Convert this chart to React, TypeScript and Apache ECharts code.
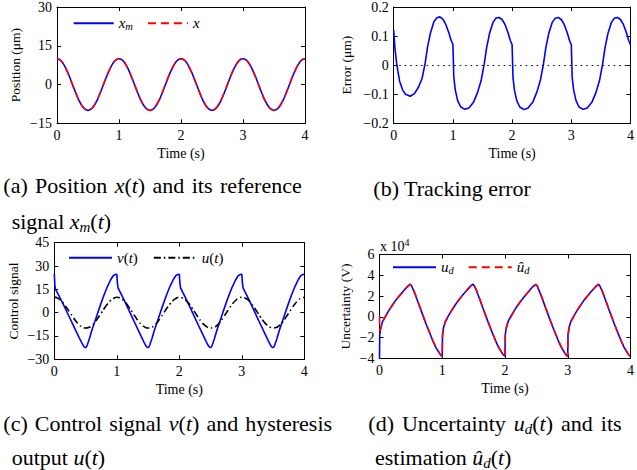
import React, { useEffect, useRef } from "react";
import * as echarts from "echarts";

// ---------- data ----------
const timeGrid = [0,0.05,0.1,0.15,0.2,0.25,0.3,0.35,0.4,0.45,0.5,0.55,0.6,0.65,0.7,0.75,0.8,0.85,0.9,0.95,
  1,1.05,1.1,1.15,1.2,1.25,1.3,1.35,1.4,1.45,1.5,1.55,1.6,1.65,1.7,1.75,1.8,1.85,1.9,1.95,
  2,2.05,2.1,2.15,2.2,2.25,2.3,2.35,2.4,2.45,2.5,2.55,2.6,2.65,2.7,2.75,2.8,2.85,2.9,2.95,
  3,3.05,3.1,3.15,3.2,3.25,3.3,3.35,3.4,3.45,3.5,3.55,3.6,3.65,3.7,3.75,3.8,3.85,3.9,3.95,4];

const xmValues = [10,9.5,8.1,5.9,3.1,0,-3.1,-5.9,-8.1,-9.5,-10,-9.5,-8.1,-5.9,-3.1,0,3.1,5.9,8.1,9.5,
  10,9.5,8.1,5.9,3.1,0,-3.1,-5.9,-8.1,-9.5,-10,-9.5,-8.1,-5.9,-3.1,0,3.1,5.9,8.1,9.5,
  10,9.5,8.1,5.9,3.1,0,-3.1,-5.9,-8.1,-9.5,-10,-9.5,-8.1,-5.9,-3.1,0,3.1,5.9,8.1,9.5,
  10,9.5,8.1,5.9,3.1,0,-3.1,-5.9,-8.1,-9.5,-10,-9.5,-8.1,-5.9,-3.1,0,3.1,5.9,8.1,9.5,10];

const xValues = [9.9,9.5,8.0,5.9,3.0,-0.1,-3.1,-5.9,-8.1,-9.5,-9.9,-9.5,-8.1,-5.8,-3.0,0.1,3.1,5.9,8.1,9.5,
  10,9.5,8.1,5.8,3.0,-0.1,-3.2,-5.9,-8.1,-9.5,-10,-9.5,-8.0,-5.8,-3.0,0.1,3.2,5.9,8.1,9.5,
  10,9.5,8.0,5.8,3.0,-0.1,-3.1,-5.9,-8.2,-9.5,-10,-9.4,-8.0,-5.8,-3.0,0.1,3.2,6.0,8.1,9.5,
  10,9.5,8.0,5.8,3.0,-0.1,-3.2,-5.9,-8.1,-9.5,-10,-9.5,-8.0,-5.8,-3.0,0.1,3.1,5.9,8.1,9.5,10];

const errTime = [0,0.02,0.05,0.1,0.15,0.2,0.28,0.35,0.42,0.48,0.53,0.57,0.62,0.68,0.73,0.78,0.83,0.88,0.93,0.97,1,
  1.015,1.04,1.08,1.13,1.2,1.27,1.35,1.42,1.48,1.53,1.57,1.62,1.68,1.73,1.78,1.83,1.88,1.93,1.97,2,
  2.015,2.04,2.08,2.13,2.2,2.27,2.35,2.42,2.48,2.53,2.57,2.62,2.68,2.73,2.78,2.83,2.88,2.93,2.97,3,
  3.015,3.04,3.08,3.13,3.2,3.27,3.35,3.42,3.48,3.53,3.57,3.62,3.68,3.73,3.78,3.83,3.88,3.93,3.97,4];
const errValues = [0.12,0.06,0.005,-0.055,-0.085,-0.1,-0.107,-0.098,-0.075,-0.045,0.005,0.06,0.11,0.15,0.163,0.166,0.158,0.14,0.112,0.085,0.072,
  -0.04,-0.085,-0.122,-0.143,-0.152,-0.147,-0.127,-0.092,-0.05,0.005,0.06,0.11,0.148,0.162,0.164,0.157,0.14,0.112,0.085,0.07,
  -0.042,-0.087,-0.123,-0.144,-0.153,-0.147,-0.127,-0.092,-0.05,0.004,0.06,0.11,0.148,0.161,0.164,0.157,0.14,0.112,0.085,0.07,
  -0.042,-0.086,-0.122,-0.144,-0.152,-0.147,-0.127,-0.092,-0.05,0.005,0.06,0.11,0.148,0.162,0.164,0.157,0.14,0.112,0.085,0.07];

const vTime = [0,0.01,0.02,0.05,0.1,0.15,0.2,0.25,0.3,0.35,0.4,0.44,0.47,0.49,0.51,0.53,0.56,0.6,0.65,0.7,0.75,0.8,0.85,0.9,0.94,0.97,1,
  1.01,1.02,1.05,1.1,1.15,1.2,1.25,1.3,1.35,1.4,1.44,1.47,1.49,1.51,1.53,1.56,1.6,1.65,1.7,1.75,1.8,1.85,1.9,1.94,1.97,2,
  2.01,2.02,2.05,2.1,2.15,2.2,2.25,2.3,2.35,2.4,2.44,2.47,2.49,2.51,2.53,2.56,2.6,2.65,2.7,2.75,2.8,2.85,2.9,2.94,2.97,3,
  3.01,3.02,3.05,3.1,3.15,3.2,3.25,3.3,3.35,3.4,3.44,3.47,3.49,3.51,3.53,3.56,3.6,3.65,3.7,3.75,3.8,3.85,3.9,3.94,3.97,4];
const vValues = [25,17,15,12.8,8.8,4.8,0.6,-3.6,-7.8,-12,-16.2,-19.5,-21.6,-22.4,-22.3,-20.5,-17,-11.5,-5.5,0.5,6.3,11.8,16.8,21,23.6,24.5,24.6,
  19,16,13.5,9.5,5.3,1.0,-3.3,-7.6,-11.9,-16.1,-19.5,-21.6,-22.4,-22.3,-20.5,-17,-11.5,-5.5,0.5,6.3,11.8,16.8,21,23.6,24.5,24.6,
  19,16,13.5,9.5,5.3,1.0,-3.3,-7.6,-11.9,-16.1,-19.5,-21.6,-22.4,-22.3,-20.5,-17,-11.5,-5.5,0.5,6.3,11.8,16.8,21,23.6,24.5,24.6,
  19,16,13.5,9.5,5.3,1.0,-3.3,-7.6,-11.9,-16.1,-19.5,-21.6,-22.4,-22.3,-20.5,-17,-11.5,-5.5,0.5,6.3,11.8,16.8,21,23.6,24.5,24.6];

const uValues = [10,9.4,8.0,5.8,3.0,0.1,-2.9,-5.7,-7.9,-9.3,-9.9,-9.6,-8.3,-6.1,-3.3,-0.3,2.8,5.6,7.8,9.3,
  9.9,9.5,8.2,6.0,3.2,0.2,-2.9,-5.7,-7.9,-9.3,-9.9,-9.6,-8.3,-6.1,-3.3,-0.3,2.8,5.6,7.8,9.3,
  9.9,9.5,8.2,6.0,3.2,0.2,-2.9,-5.7,-7.9,-9.3,-9.9,-9.6,-8.3,-6.1,-3.3,-0.3,2.8,5.6,7.8,9.3,
  9.9,9.5,8.2,6.0,3.2,0.2,-2.9,-5.7,-7.9,-9.3,-9.9,-9.6,-8.3,-6.1,-3.3,-0.3,2.8,5.6,7.8,9.3,9.9];

const udTime = [0,0.004,0.02,0.05,0.1,0.15,0.2,0.25,0.3,0.35,0.4,0.45,0.49,0.51,0.55,0.6,0.65,0.7,0.75,0.8,0.85,0.9,0.95,0.98,
  1,1.004,1.02,1.05,1.1,1.15,1.2,1.25,1.3,1.35,1.4,1.45,1.49,1.51,1.55,1.6,1.65,1.7,1.75,1.8,1.85,1.9,1.95,1.98,
  2,2.004,2.02,2.05,2.1,2.15,2.2,2.25,2.3,2.35,2.4,2.45,2.49,2.51,2.55,2.6,2.65,2.7,2.75,2.8,2.85,2.9,2.95,2.98,
  3,3.004,3.02,3.05,3.1,3.15,3.2,3.25,3.3,3.35,3.4,3.45,3.49,3.51,3.55,3.6,3.65,3.7,3.75,3.8,3.85,3.9,3.95,3.98,4];
// in units of 10^4 V
const udValues = [-4,-1.7,-1.05,-0.42,0.12,0.63,1.1,1.52,1.91,2.27,2.62,2.95,3.14,3.0,2.45,1.65,0.82,0,-0.8,-1.55,-2.3,-2.95,-3.45,-3.7,
  -3.75,-1.7,-1.05,-0.42,0.12,0.63,1.1,1.52,1.91,2.27,2.62,2.95,3.15,3.0,2.45,1.65,0.8,0,-0.8,-1.56,-2.3,-2.95,-3.45,-3.7,
  -3.75,-1.7,-1.05,-0.42,0.12,0.63,1.1,1.51,1.9,2.26,2.62,2.94,3.14,3.0,2.45,1.66,0.82,0,-0.8,-1.55,-2.3,-2.95,-3.45,-3.7,
  -3.75,-1.7,-1.05,-0.42,0.12,0.63,1.1,1.52,1.91,2.27,2.62,2.95,3.15,3.0,2.45,1.65,0.8,0,-0.8,-1.56,-2.3,-2.95,-3.45,-3.7,-3.75];
const udHatValues = [0.1,-1.35,-1.1,-0.47,0.08,0.6,1.07,1.5,1.89,2.25,2.6,2.92,3.1,3.02,2.5,1.7,0.85,0.03,-0.77,-1.52,-2.27,-2.92,-3.43,-3.72,
  -3.8,-1.9,-1.12,-0.47,0.08,0.6,1.07,1.5,1.89,2.25,2.6,2.92,3.1,3.02,2.5,1.7,0.85,0.03,-0.77,-1.52,-2.27,-2.92,-3.43,-3.72,
  -3.8,-1.9,-1.12,-0.47,0.08,0.6,1.07,1.5,1.89,2.25,2.6,2.92,3.1,3.02,2.5,1.7,0.85,0.03,-0.77,-1.52,-2.27,-2.92,-3.43,-3.72,
  -3.8,-1.9,-1.12,-0.47,0.08,0.6,1.07,1.5,1.89,2.25,2.6,2.92,3.1,3.02,2.5,1.7,0.85,0.03,-0.77,-1.52,-2.27,-2.92,-3.43,-3.72,-3.8];

const timeRange = { min: 0, max: 4, interval: 1 };
const yRanges = [
  { min: -15, max: 30, interval: 15, name: "Position (\u03bcm)" },
  { min: -0.2, max: 0.2, interval: 0.1, name: "Error (\u03bcm)" },
  { min: -30, max: 45, interval: 15, name: "Control signal" },
  { min: -4, max: 6, interval: 2, name: "Uncertainty (V)" },
];

// ---------- layout / style ----------
const SERIF = "Liberation Serif";
const BLACK = "#000000";
const BLUE = "#0000ff";
const RED = "#ff0000";

const grids = [
  { left: 57, top: 6.3, width: 248, height: 117 },
  { left: 393.7, top: 6, width: 245, height: 117.3 },
  { left: 54.3, top: 242.7, width: 250, height: 116.6 },
  { left: 379.5, top: 254.5, width: 257.5, height: 104 },
];
const yNameGaps = [35, 40, 34, 27.5];

const pairs = (t: number[], v: number[]) => t.map((x, i) => [x, v[i]]);
const minusFmt = (v: number) => (v < 0 ? "\u2212" + String(Math.abs(v)) : String(v));

const legendRich = {
  i: { fontFamily: SERIF, fontStyle: "italic", fontSize: 15, color: BLACK, lineHeight: 18 },
  n: { fontFamily: SERIF, fontSize: 15, color: BLACK, lineHeight: 18 },
  s: { fontFamily: SERIF, fontStyle: "italic", fontSize: 10.5, color: BLACK, lineHeight: 12, verticalAlign: "bottom" },
};
const legendNames: Record<string, string> = {
  xm: "{i|x}{s|m}",
  x: "{i|x}",
  v: "{i|v}{n|(}{i|t}{n|)}",
  u: "{i|u}{n|(}{i|t}{n|)}",
  ud: "{i|u}{s|d}",
  udhat: "{i|\u00fb}{s|d}",
};

function capRich(space: number) {
  return {
    n: { fontFamily: SERIF, fontSize: 22, fill: BLACK, lineHeight: 26 },
    i: { fontFamily: SERIF, fontSize: 22, fontStyle: "italic", fill: BLACK, lineHeight: 26 },
    s: { fontFamily: SERIF, fontSize: 15, fontStyle: "italic", fill: BLACK, lineHeight: 14, verticalAlign: "bottom" },
    w: { fontFamily: SERIF, fontSize: 22, width: space, lineHeight: 26 },
  };
}
function caption(x: number, y: number, text: string, space = 5.5) {
  return {
    type: "text",
    x,
    y,
    style: { text, rich: capRich(space), verticalAlign: "middle", align: "left", fill: BLACK, fontFamily: SERIF },
  };
}

function buildOption() {
  const xAxis: any[] = [];
  const yAxis: any[] = [];
  grids.forEach((_, i) => {
    const common = {
      type: "value",
      gridIndex: i,
      ...timeRange,
      axisLine: { show: true, onZero: false, lineStyle: { color: BLACK, width: 1 } },
      axisTick: { show: true, inside: true, length: 4, lineStyle: { color: BLACK, width: 1 } },
      splitLine: { show: false },
    };
    xAxis.push({
      ...common,
      position: "bottom",
      axisLabel: { color: BLACK, fontFamily: SERIF, fontSize: 14, fontWeight: "normal", margin: 5 },
      name: "Time (s)",
      nameLocation: "middle",
      nameGap: 23,
      nameTextStyle: { color: BLACK, fontFamily: SERIF, fontSize: 14, fontWeight: "normal" },
    });
    xAxis.push({ ...common, position: "top", axisLabel: { show: false } });
    const yr = yRanges[i];
    const ycommon = {
      type: "value",
      gridIndex: i,
      min: yr.min,
      max: yr.max,
      interval: yr.interval,
      axisLine: { show: true, onZero: false, lineStyle: { color: BLACK, width: 1 } },
      axisTick: { show: true, inside: true, length: 4, lineStyle: { color: BLACK, width: 1 } },
      splitLine: { show: false },
    };
    yAxis.push({
      ...ycommon,
      position: "left",
      axisLabel: { color: BLACK, fontFamily: SERIF, fontSize: 14, fontWeight: "normal", margin: 5, formatter: minusFmt },
      name: yr.name,
      nameLocation: "middle",
      nameGap: yNameGaps[i],
      nameTextStyle: { color: BLACK, fontFamily: SERIF, fontSize: 13.5, fontWeight: "normal" },
    });
    yAxis.push({ ...ycommon, position: "right", axisLabel: { show: false } });
  });

  const line = (name: string, gi: number, data: number[][], color: string, type: any, smooth: boolean, z = 2) => ({
    name,
    type: "line",
    xAxisIndex: gi * 2,
    yAxisIndex: gi * 2,
    data,
    symbol: "none",
    showSymbol: false,
    smooth,
    clip: true,
    z,
    itemStyle: { color },
    lineStyle: { color, width: 1.6, type },
  });

  const errSeries: any = line("e", 1, pairs(errTime, errValues), BLUE, "solid", false);
  errSeries.markLine = {
    silent: true,
    symbol: "none",
    label: { show: false },
    lineStyle: { color: BLACK, width: 1, type: [1.5, 4] },
    data: [{ yAxis: 0 }],
    z: 1,
  };

  const series = [
    line("xm", 0, pairs(timeGrid, xmValues), BLUE, "solid", true),
    line("x", 0, pairs(timeGrid, xValues), RED, [8, 5], true, 3),
    errSeries,
    line("v", 2, pairs(vTime, vValues), BLUE, "solid", false),
    line("u", 2, pairs(timeGrid, uValues), BLACK, [7, 3, 1.5, 3], true, 3),
    line("ud", 3, pairs(udTime, udValues), BLUE, "solid", false),
    line("udhat", 3, pairs(udTime, udHatValues), RED, [8, 5], false, 3),
  ];

  const legendBase = {
    orient: "horizontal",
    padding: 0,
    itemWidth: 40,
    itemHeight: 14,
    selectedMode: false,
    itemStyle: { opacity: 0 },
    formatter: (n: string) => legendNames[n] || n,
    textStyle: { fontFamily: SERIF, rich: legendRich },
  };

  return {
    animation: false,
    backgroundColor: "#ffffff",
    grid: grids.map((g) => ({ ...g, containLabel: false })),
    xAxis,
    yAxis,
    legend: [
      { ...legendBase, data: ["xm", "x"], left: 72.7, top: 15.7, itemGap: 14 },
      { ...legendBase, data: ["v", "u"], left: 68, top: 250.3, itemWidth: 43, itemGap: 15 },
      { ...legendBase, data: ["ud", "udhat"], left: 392, top: 259.7, itemWidth: 43, itemGap: 14 },
    ],
    series,
    graphic: [
      {
        type: "text",
        x: 380,
        y: 245,
        style: {
          text: "{n|x 10}{p|4}",
          verticalAlign: "middle",
          fontFamily: SERIF,
          rich: {
            n: { fontFamily: SERIF, fontSize: 14, fill: BLACK, lineHeight: 16, verticalAlign: "bottom" },
            p: { fontFamily: SERIF, fontSize: 10, fill: BLACK, lineHeight: 16, verticalAlign: "top" },
          },
        },
      },
      caption(3.3, 185, "{n|(a)}{w| }{n|Position}{w| }{i|x}{n|(}{i|t}{n|)}{w| }{n|and}{w| }{n|its}{w| }{n|reference}", 7.4),
      caption(11.7, 221, "{n|signal }{i|x}{s|m}{n|(}{i|t}{n|)}"),
      caption(373.3, 188, "{n|(b) Tracking error}"),
      caption(3.3, 423, "{n|(c)}{w| }{n|Control}{w| }{n|signal}{w| }{i|v}{n|(}{i|t}{n|)}{w| }{n|and}{w| }{n|hysteresis}", 7.1),
      caption(11.7, 457, "{n|output }{i|u}{n|(}{i|t}{n|)}"),
      caption(368.3, 423, "{n|(d)}{w| }{n|Uncertainty}{w| }{i|u}{s|d}{n|(}{i|t}{n|)}{w| }{n|and}{w| }{n|its}", 8),
      caption(375, 457, "{n|estimation }{i|\u00fb}{s|d}{n|(}{i|t}{n|)}"),
    ],
  };
}

export default function App() {
  const ref = useRef<HTMLDivElement>(null);
  useEffect(() => {
    document.body.style.margin = "0";
    if (!ref.current) return;
    const chart = echarts.init(ref.current, null, { renderer: "svg", width: 637, height: 470 });
    chart.setOption(buildOption() as any);
    return () => chart.dispose();
  }, []);
  return <div ref={ref} style={{ width: 637, height: 470, overflow: "hidden", background: "#fff" }} />;
}
